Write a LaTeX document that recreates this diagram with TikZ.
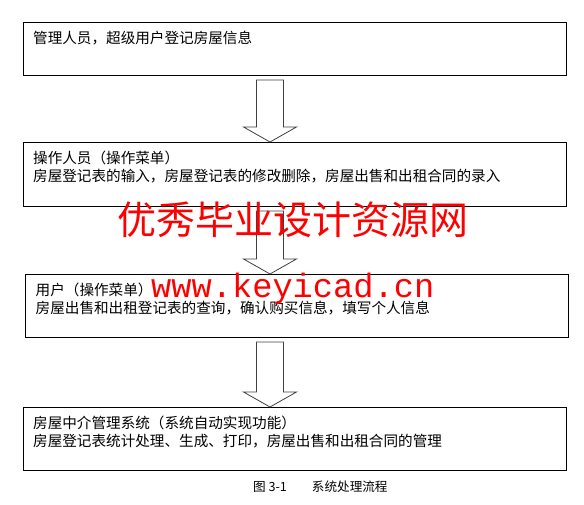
\documentclass[tikz,border=0pt]{standalone}
\usepackage{fontspec}
\setmainfont{Noto Sans CJK SC}
\newfontfamily\urlfont{Liberation Mono}
\usetikzlibrary{calc}

\begin{document}
\begin{tikzpicture}[x=1pt, y=-1pt,
    stepbox/.style={draw, line width=1pt, minimum width=543, minimum height=#1, anchor=north west, inner sep=0},
    steptext/.style={anchor=north west, inner sep=0, align=left, font=\fontsize{14.6}{18}\selectfont},
    blockarrow/.style={draw=black!75, line width=0.8pt, fill=white, line join=miter},
    wmark/.style={text=red, inner sep=0, anchor=base west}]

    \useasboundingbox (0,0) rectangle (584,505);

    \node[stepbox=53] (admin) at (22.5,22) {};
    \node[stepbox=64] (oper) at (22.5,142) {};
    \node[stepbox=63] (user) at (24.5,274) {};
    \node[stepbox=63] (sys) at (22.5,407) {};

    \node[steptext] (admintxt) at (33,30.7) {管理人员，超级用户登记房屋信息};
    \node[steptext] (opertxt) at (33,150.7) {操作人员（操作菜单）\\房屋登记表的输入，房屋登记表的修改删除，房屋出售和出租合同的录入};
    \node[steptext] (usertxt) at (35.5,282.7) {用户（操作菜单）\\房屋出售和出租登记表的查询，确认购买信息，填写个人信息};
    \node[steptext] (systxt) at (33,415.7) {房屋中介管理系统（系统自动实现功能）\\房屋登记表统计处理、生成、打印，房屋出售和出租合同的管理};

    \coordinate (ax) at (270,0);
    \begin{scope}[blockarrow]
        \foreach \a/\b in {admin/oper, oper/user, user/sys} {
            \path (\a.south -| ax) coordinate (s) (\b.north -| ax) coordinate (t);
            \draw ($(s)+(-13.5,4)$) -- ($(s)+(13.5,4)$) -- ($(t)+(13.5,-15)$) -- ($(t)+(26.5,-15)$)
                -- (t) -- ($(t)+(-26.5,-15)$) -- ($(t)+(-13.5,-15)$) -- cycle;
        }
    \end{scope}

    \node[anchor=base west, inner sep=0, font=\fontsize{12.6}{14}\selectfont] (caption) at (253,491) {图 3-1\hspace{25pt}系统处理流程};

    \node[wmark, font=\fontsize{39}{39}\selectfont] (wmname) at (117,235) {优秀毕业设计资源网};
    \node[wmark, font=\urlfont\fontsize{33.7}{34}\selectfont] (wmurl) at (151,298) {www.keyicad.cn};

\end{tikzpicture}
\end{document}
